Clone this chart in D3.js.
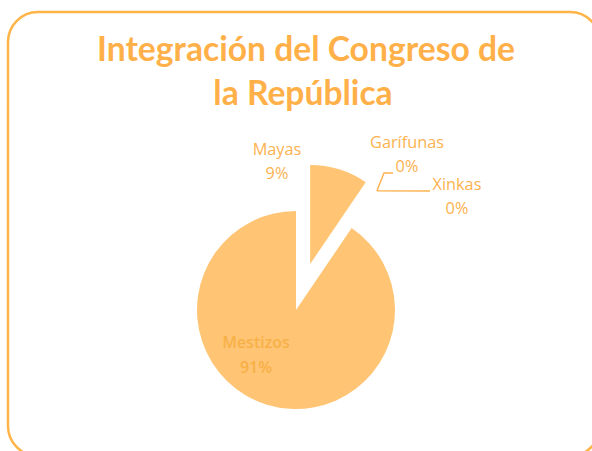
<!DOCTYPE html>
<html>
<head>
<meta charset="utf-8">
<script src="https://cdn.jsdelivr.net/npm/d3@7"></script>
<style>
  html, body { margin: 0; padding: 0; background: #ffffff; }
  svg { display: block; }
</style>
</head>
<body>
<svg id="chart" width="592" height="451"></svg>
<script>
// Seats in the Congress by ethnic group
const categories = ["Mayas", "Garífunas", "Xinkas", "Mestizos"];
const seats = [15, 0, 0, 143];
const titleLines = ["Integración del Congreso de", "la República"];

const W = 592, H = 451;
const svg = d3.select("#chart");

const sliceColor = "#FFC575";
const textColor = "#FCB24F";
const titleColor = "#FFB048";
const frameColor = "#FFB447";

// Rounded chart frame
svg.append("rect")
  .attr("x", 8).attr("y", 12)
  .attr("width", 592).attr("height", 444)
  .attr("rx", 30).attr("ry", 30)
  .attr("fill", "#ffffff")
  .attr("stroke", frameColor)
  .attr("stroke-width", 2.5);

// Title
const title = svg.append("g");
const t1 = title.append("text")
  .attr("x", 306).attr("y", 61)
  .attr("text-anchor", "middle")
  .attr("font-family", "Lato, 'Open Sans', sans-serif")
  .attr("font-weight", 700)
  .attr("font-size", 30)
  .attr("fill", titleColor)
  .text(titleLines[0]);
// fit the first title line to its intended width
const w1 = t1.node().getComputedTextLength();
const titleSize = 30 * 418 / w1;
t1.attr("font-size", titleSize);
title.append("text")
  .attr("x", 303).attr("y", 105)
  .attr("text-anchor", "middle")
  .attr("font-family", "Lato, 'Open Sans', sans-serif")
  .attr("font-weight", 700)
  .attr("font-size", titleSize)
  .attr("fill", titleColor)
  .text(titleLines[1]);

// Pie
const cx = 296, cy = 310, r = 99, explode = 48;
const data = categories.map((c, i) => ({ name: c, value: seats[i] }));
const total = d3.sum(seats);
const pct = d3.format(".0%");

const pie = d3.pie().value(d => d.value).sort(null);
const arcs = pie(data);
const arc = d3.arc().innerRadius(0).outerRadius(r);

const g = svg.append("g").attr("transform", `translate(${cx},${cy})`);

// every group except the largest is pulled out of the pie
const isExploded = d => d.data.name !== "Mestizos";
function offset(d, dist) {
  const a = (d.startAngle + d.endAngle) / 2;
  return [dist * Math.sin(a), -dist * Math.cos(a)];
}

g.selectAll("path.slice")
  .data(arcs.filter(d => d.value > 0))
  .join("path")
  .attr("class", "slice")
  .attr("d", arc)
  .attr("fill", sliceColor)
  .attr("transform", d => {
    const [dx, dy] = isExploded(d) ? offset(d, explode) : [0, 0];
    return `translate(${dx},${dy})`;
  });

// Data labels
const labelFont = "'Open Sans', Lato, sans-serif";
const labelPos = {
  "Mayas":     { x: 277, y1: 155, y2: 179, size: 16.3, weight: 400, color: textColor },
  "Garífunas": { x: 407, y1: 148, y2: 172, size: 16.3, weight: 400, color: textColor },
  "Xinkas":    { x: 457, y1: 190, y2: 214, size: 16.3, weight: 400, color: textColor },
  "Mestizos":  { x: 256, y1: 348, y2: 373, size: 16, weight: 600, color: "#F8B047" }
};
// leader line bends for the empty groups
const leaderEnds = {
  "Garífunas": [[384, 173], [393, 173]],
  "Xinkas":    [[430, 191]]
};

arcs.forEach(d => {
  const p = labelPos[d.data.name];
  const lab = svg.append("text")
    .attr("text-anchor", "middle")
    .attr("font-family", labelFont)
    .attr("font-weight", p.weight)
    .attr("font-size", p.size)
    .attr("fill", p.color);
  lab.append("tspan").attr("x", p.x).attr("y", p.y1).text(d.data.name);
  lab.append("tspan").attr("x", p.x).attr("y", p.y2).text(pct(d.data.value / total));

  if (leaderEnds[d.data.name]) {
    const a = d.startAngle;
    const rr = r + explode - 3;
    const start = [cx + rr * Math.sin(a), cy - rr * Math.cos(a)];
    svg.append("path")
      .attr("d", d3.line()([start, ...leaderEnds[d.data.name]]))
      .attr("fill", "none")
      .attr("stroke", textColor)
      .attr("stroke-width", 1.4);
  }
});
</script>
</body>
</html>
